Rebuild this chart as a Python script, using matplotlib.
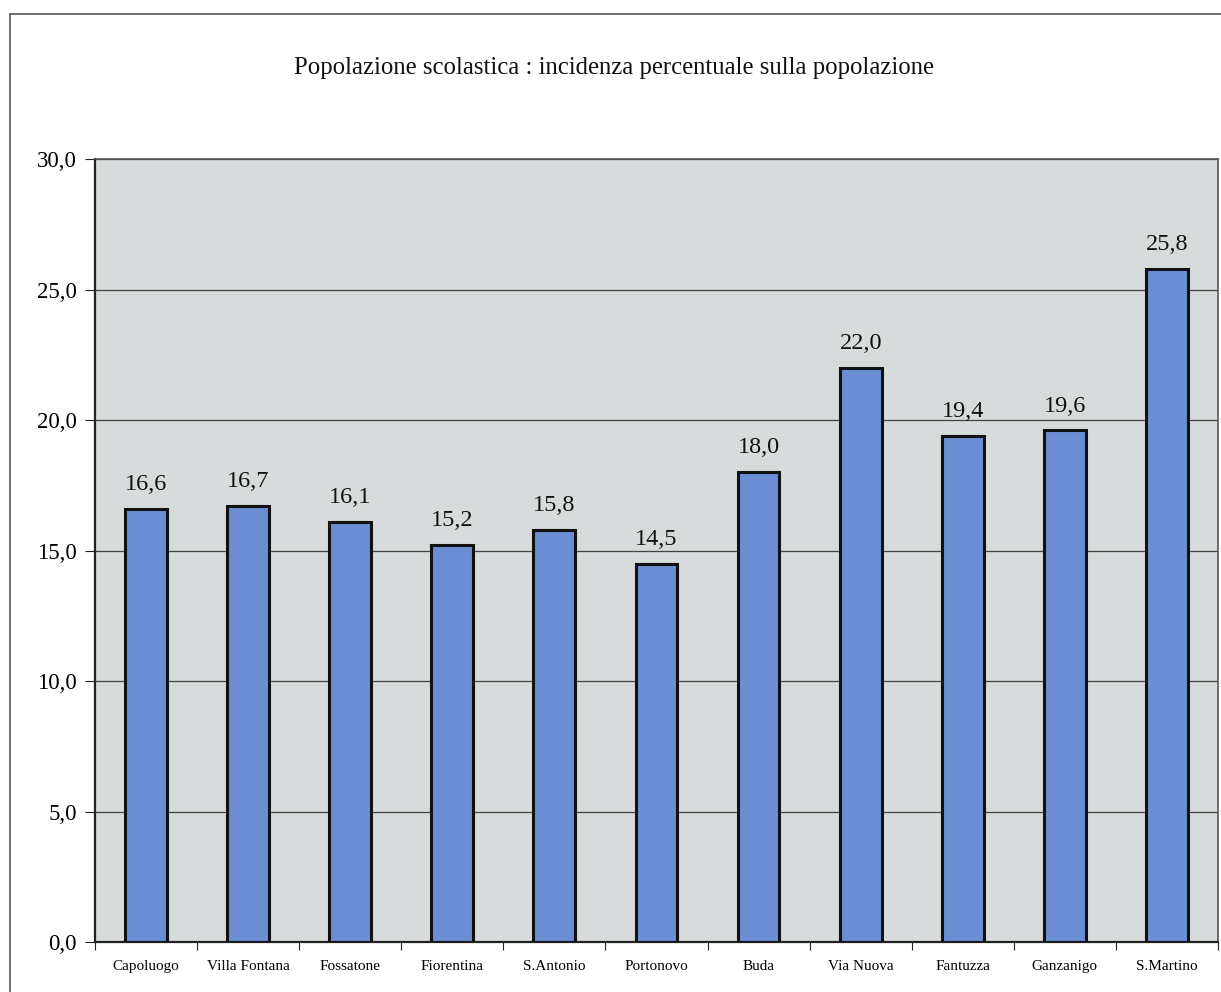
import numpy as np
import matplotlib.pyplot as plt
from matplotlib.patches import Rectangle

categories = ['Capoluogo', 'Villa Fontana', 'Fossatone', 'Fiorentina', 'S.Antonio',
              'Portonovo', 'Buda', 'Via Nuova', 'Fantuzza', 'Ganzanigo', 'S.Martino']
values = [16.6, 16.7, 16.1, 15.2, 15.8, 14.5, 18.0, 22.0, 19.4, 19.6, 25.8]
y_ticks = [0, 5, 10, 15, 20, 25, 30]

title = 'Popolazione scolastica : incidenza percentuale sulla popolazione'

plt.rcParams['font.family'] = ['Liberation Serif', 'DejaVu Serif']

fig = plt.figure(figsize=(12.21, 9.92), dpi=100)
ax = fig.add_axes([0.0778, 0.0504, 0.9197, 0.7893])

# outer chart frame (runs off the right/bottom of the scan)
fig.patches.append(Rectangle((0.0082, -0.02), 1.05, 1.0059, transform=fig.transFigure,
                             fill=False, edgecolor='#555555', linewidth=1.2))

x = np.arange(len(categories))
ax.set_facecolor('#d8dbdb')
ax.bar(x, values, width=0.41, color='#6a8dd4', edgecolor='#111111', linewidth=2.2, zorder=3)

for xi, v in zip(x, values):
    ax.annotate(f'{v:.1f}'.replace('.', ','), (xi, v), xytext=(0, 10), textcoords='offset points',
                ha='center', va='bottom', fontsize=17.5, color='#111111')

ax.set_xlim(-0.5, len(categories) - 0.5)
ax.set_ylim(0, 30)
ax.set_yticks(y_ticks)
ax.set_yticklabels([f'{t:.1f}'.replace('.', ',') for t in y_ticks], fontsize=16.5)
ax.yaxis.grid(True, color='#444444', linewidth=0.9, zorder=1)
ax.set_axisbelow(True)

ax.set_xticks(np.arange(-0.5, len(categories), 1.0))
ax.set_xticklabels([])
ax.set_xticks(x, minor=True)
ax.set_xticklabels(categories, minor=True, fontsize=11)
ax.tick_params(axis='x', which='major', direction='out', length=6, color='#222222')
ax.tick_params(axis='x', which='minor', length=0, pad=13)
ax.tick_params(axis='y', direction='out', length=7, color='#222222', pad=6)

for side in ['left', 'bottom']:
    ax.spines[side].set_color('#222222')
    ax.spines[side].set_linewidth(1.6)
for side in ['top', 'right']:
    ax.spines[side].set_color('#555555')
    ax.spines[side].set_linewidth(1.2)

fig.text(0.503, 0.931, title, ha='center', va='center', fontsize=17.8, color='#111111')

fig.savefig('out.png', dpi=100, facecolor='white')
